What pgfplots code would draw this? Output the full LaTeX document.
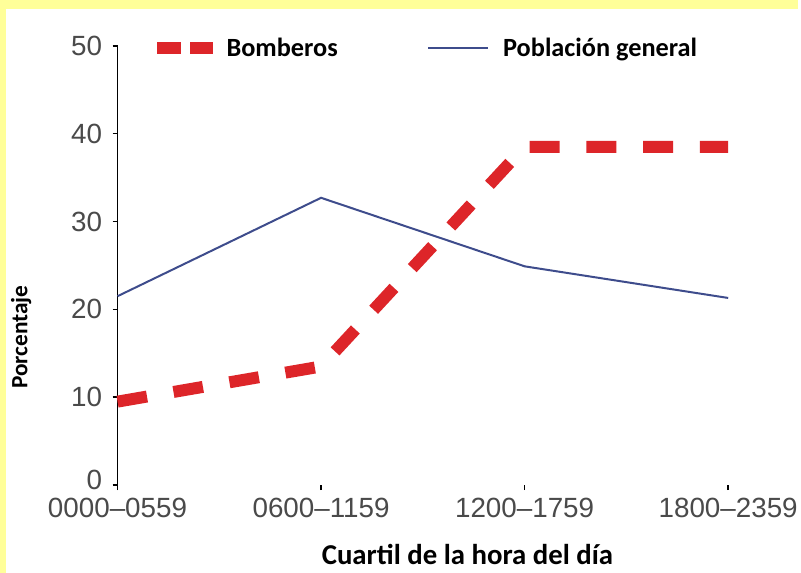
\documentclass[border=0pt]{standalone}
\usepackage{fontspec}
\setmainfont{Liberation Sans}
\newfontfamily\calfont{Carlito}
\usepackage{pgfplots}
\pgfplotsset{compat=1.18}
\definecolor{bgyellow}{HTML}{FFFF99}
\definecolor{bomred}{HTML}{DD2529}
\definecolor{popblue}{HTML}{3E4C8C}
\definecolor{ticklab}{HTML}{4A4A4A}
\begin{document}
\begin{tikzpicture}[x=1bp,y=1bp]
\fill[bgyellow] (0,0) rectangle (801,575);
\fill[white] (6,0) rectangle (801,566);
\begin{axis}[
  at={(118bp,88bp)}, anchor=south west,
  scale only axis, width=613bp, height=441bp,
  xmin=0, xmax=3, ymin=0, ymax=50,
  clip=false,
  axis y line=left, axis x line=bottom,
  x axis line style={draw=none},
  y axis line style={-, line width=1.8bp, black, shorten <=-5bp},
  xtick={0,1,2,3},
  xticklabels={0000–0559,0600–1159,1200–1759,1800–2359},
  ytick={0,10,20,30,40,50},
  yticklabels={\raisebox{10bp}{0},10,20,30,40,50},
  tick align=outside,
  major tick length=5bp,
  tick style={black, line width=1.5bp},
  /pgf/number format/assume math mode=true,
  tick label style={font=\fontsize{28}{28}\selectfont, text=ticklab},
  xticklabel style={yshift=-5bp},
  yticklabel style={xshift=-7bp},
  xlabel={Cuartil de la hora del día},
  ylabel={Porcentaje},
  xlabel style={font=\calfont\bfseries\fontsize{29}{29}\selectfont, at={(axis description cs:0.573,-0.158)}, anchor=center},
  ylabel style={font=\calfont\bfseries\fontsize{23.5}{23.5}\selectfont, at={(axis description cs:-0.158,0.337)}, anchor=center, rotate=0},
  legend columns=2,
  legend style={at={(axis description cs:0.064,0.995)}, anchor=west, draw=none, fill=none,
    font=\calfont\bfseries\fontsize{26.5}{26.5}\selectfont, inner sep=0pt,
    nodes={inner sep=0pt},
    /tikz/every odd column/.append style={column sep=14bp},
    /tikz/every even column/.append style={column sep=90bp}},
  legend cell align=left,
]
\addplot[bomred, line width=12bp, dash pattern=on 30bp off 27bp,
  legend image code/.code={\path[fill=bomred, draw=none, line width=0pt, solid] (0bp,-6bp) rectangle (24bp,6bp); \path[fill=bomred, draw=none, line width=0pt, solid] (33bp,-6bp) rectangle (56bp,6bp);}]
  coordinates {(0,9.5) (1,13.5) (2,38.5) (3,38.5)};
\addlegendentry{Bomberos}
\addplot[popblue, line width=2bp,
  legend image code/.code={\draw[popblue, line width=2bp] (0bp,0bp) -- (60bp,0bp);}]
  coordinates {(0,21.5) (1,32.7) (2,24.9) (3,21.3)};
\addlegendentry{Población general}
\end{axis}
\end{tikzpicture}
\end{document}
